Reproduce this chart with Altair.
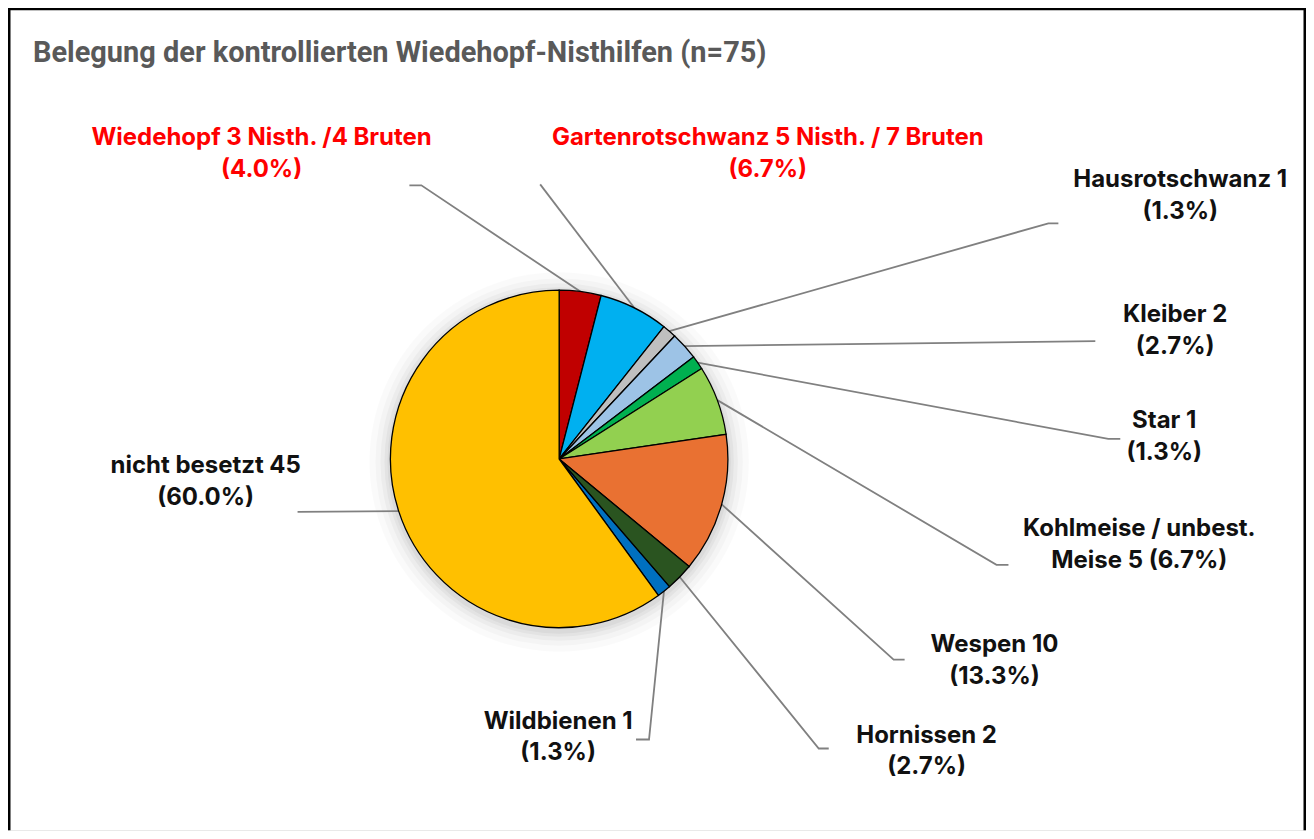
import math
import altair as alt
import pandas as pd

# ---------------- data ----------------
title_text = "Belegung der kontrollierten  Wiedehopf-Nisthilfen (n=75)"
categories = ["Wiedehopf", "Gartenrotschwanz", "Hausrotschwanz", "Kleiber", "Star",
              "Kohlmeise / unbest. Meise", "Wespen", "Hornissen", "Wildbienen", "nicht besetzt"]
counts = [3, 5, 1, 2, 1, 5, 10, 2, 1, 45]
label_line1 = ["Wiedehopf 3 Nisth. /4 Bruten", "Gartenrotschwanz 5 Nisth. / 7 Bruten",
               "Hausrotschwanz 1", "Kleiber 2", "Star 1", "Kohlmeise / unbest.",
               "Wespen 10", "Hornissen 2", "Wildbienen 1", "nicht besetzt 45"]
label_line2_prefix = ["", "", "", "", "", "Meise 5 ", "", "", "", ""]

# ---------------- styles / layout ----------------
slice_colors = ["#C00000", "#00B0F0", "#BFBFBF", "#9DC3E6", "#00B050",
                "#92D050", "#E97132", "#2A5420", "#0070C0", "#FFC000"]
label_colors = ["#FF0000", "#FF0000"] + ["#111111"] * 8

W, H = 1300, 823
CX, CY, R = 552, 451, 169
# label centre (first line) and leader-line elbow / end, in chart pixels
label_x = [254, 761, 1174, 1169, 1158, 1133, 988, 920, 551, 198]
label_y = [130, 130, 172, 307, 413, 521, 637, 728, 714, 458]
elbow_x = [414, 533, 1042, 1089, 1102, 990, 887, 812, 642, 290]
elbow_y = [177, 176, 215, 333, 431, 557, 652, 741, 732, 504]
end_x = [402, 533, 1052, 1089, 1114, 1002, 898, 822, 629, 290]
end_y = [177, 176, 215, 333, 431, 557, 652, 741, 732, 504]

total = sum(counts)
rows, lead = [], []
cum = 0
for i, (cat, c) in enumerate(zip(categories, counts)):
    mid = (cum + c / 2) / total * 2 * math.pi
    cum += c
    pct = f"({c / total * 100:.1f}%)"
    rows.append(dict(idx=i, cat=cat, value=c,
                     l1=label_line1[i], l2=label_line2_prefix[i] + pct,
                     lx=label_x[i], ly=label_y[i], ly2=label_y[i] + 32,
                     tcol=label_colors[i]))
    sx = CX + R * math.sin(mid)
    sy = CY - R * math.cos(mid)
    for k, (px, py) in enumerate([(sx, sy), (elbow_x[i], elbow_y[i]), (end_x[i], end_y[i])]):
        lead.append(dict(cat=cat, step=k, x=px, y=py))

df = pd.DataFrame(rows)
ldf = pd.DataFrame(lead)

xs = alt.Scale(domain=[0, W], nice=False, zero=False)
ys = alt.Scale(domain=[0, H], nice=False, zero=False, reverse=True)

# soft shadow
shadow_layers = []
for r_, op in [(190, 0.018), (184, 0.025), (179, 0.03), (175, 0.035), (172, 0.04)]:
    shadow_layers.append(
        alt.Chart(pd.DataFrame({"a": [0]})).mark_arc(
            outerRadius=r_, theta=0, theta2=2 * math.pi, fill="black", opacity=op, stroke=None
        ).encode(x=alt.value(CX), y=alt.value(CY + 3))
    )

pie = alt.Chart(df).mark_arc(outerRadius=R, stroke="black", strokeWidth=1.3).encode(
    theta=alt.Theta("value:Q", stack=True),
    order=alt.Order("idx:Q"),
    color=alt.Color("cat:N", scale=alt.Scale(domain=categories, range=slice_colors), legend=None),
    x=alt.value(CX), y=alt.value(CY),
)

leaders = alt.Chart(ldf).mark_line(color="#808080", strokeWidth=1.8).encode(
    x=alt.X("x:Q", scale=xs, axis=None),
    y=alt.Y("y:Q", scale=ys, axis=None),
    detail="cat:N",
    order="step:Q",
)

font = "Inter"
t1 = alt.Chart(df).mark_text(font=font, fontSize=24, fontWeight="bold", align="center",
                             baseline="middle").encode(
    x=alt.X("lx:Q", scale=xs, axis=None), y=alt.Y("ly:Q", scale=ys, axis=None),
    text="l1:N", color=alt.Color("tcol:N", scale=None))
t2 = alt.Chart(df).mark_text(font=font, fontSize=24, fontWeight="bold", align="center",
                             baseline="middle").encode(
    x=alt.X("lx:Q", scale=xs, axis=None), y=alt.Y("ly2:Q", scale=ys, axis=None),
    text="l2:N", color=alt.Color("tcol:N", scale=None))

title = alt.Chart(pd.DataFrame({"t": [title_text], "x": [25], "y": [44]})).mark_text(
    font="Roboto", fontSize=29, fontWeight="bold", align="left", baseline="middle", color="#595959"
).encode(x=alt.X("x:Q", scale=xs, axis=None), y=alt.Y("y:Q", scale=ys, axis=None), text="t:N")

frame = alt.Chart(pd.DataFrame({"a": [0]})).mark_rule(color="black", strokeWidth=3)
frame_layers = [
    frame.encode(x=alt.value(1), y=alt.value(0), y2=alt.value(H)),
    frame.encode(x=alt.value(0), x2=alt.value(W), y=alt.value(0)),
    frame.encode(x=alt.value(W - 1), y=alt.value(0), y2=alt.value(H)),
]

chart = alt.layer(*shadow_layers, leaders, pie, t1, t2, title, *frame_layers).properties(
    width=W, height=H, padding=0, autosize=alt.AutoSizeParams(type="none")
).configure_view(stroke=None).configure(background="white")

chart.save("out.html", embed_options={"renderer": "svg", "actions": False})
